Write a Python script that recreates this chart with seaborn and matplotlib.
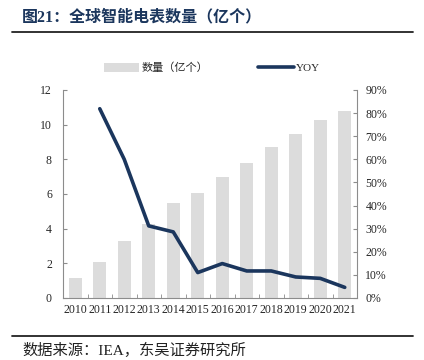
import numpy as np
import pandas as pd
import matplotlib
matplotlib.use('Agg')
import matplotlib.pyplot as plt
from matplotlib.lines import Line2D
from matplotlib.patches import Patch
from matplotlib.ticker import FixedLocator, FuncFormatter
import seaborn as sns

years = ['2010', '2011', '2012', '2013', '2014', '2015',
         '2016', '2017', '2018', '2019', '2020', '2021']
count = [1.15, 2.08, 3.27, 4.25, 5.46, 6.08, 6.96, 7.77, 8.69, 9.46, 10.29, 10.79]
yoy = [np.nan, 81.9, 60.0, 31.2, 28.6, 11.0, 14.9, 11.7, 11.7, 9.1, 8.5, 4.6]

bar_label = '数量（亿个）'
line_label = 'YOY'
title = '图21：全球智能电表数量（亿个）'
source = '数据来源：IEA，东吴证券研究所'

bar_color = '#DCDCDC'
line_color = '#1B365D'
spine_color = '#8C8C8C'

sns.set_style('white')
plt.rcParams['font.family'] = ['Liberation Serif', 'Noto Sans CJK SC']

df = pd.DataFrame({'year': years, 'count': count, 'yoy': yoy})
df['pos'] = df.index

fig = plt.figure(figsize=(4.24, 3.6), dpi=100)
ax = fig.add_axes([63/424, 62/360, 294/424, 208/360])

sns.barplot(data=df, x='year', y='count', color=bar_color, width=0.55,
            saturation=1, ax=ax, edgecolor='none')
ax.set_xlim(-0.5, 11.5)
ax.set_ylim(0, 12)
ax.set_yticks([0, 2, 4, 6, 8, 10, 12])
ax.set_xlabel('')
ax.set_ylabel('')

ax2 = ax.twinx()
sns.lineplot(data=df.dropna(), x='pos', y='yoy', color=line_color,
             linewidth=2.6, ax=ax2)
ax2.set_ylim(0, 90)
ax2.set_yticks(np.arange(0, 91, 10))
ax2.yaxis.set_major_formatter(FuncFormatter(lambda v, p: f'{v:.0f}%'))
ax2.set_xlim(-0.5, 11.5)
ax2.set_xlabel('')
ax2.set_ylabel('')

for a in (ax, ax2):
    for s in a.spines.values():
        s.set_color(spine_color)
        s.set_linewidth(0.8)
    a.spines['top'].set_visible(False)
    a.grid(False)

ax.spines['right'].set_visible(False)
ax2.spines['left'].set_visible(False)
ax2.spines['bottom'].set_visible(False)

ax.tick_params(axis='y', direction='in', length=3, color=spine_color,
               labelsize=8.5, pad=8, left=True)
ax.tick_params(axis='x', which='major', length=0, labelsize=8.5, pad=4)
ax.xaxis.set_minor_locator(FixedLocator(np.arange(0.5, 11.5, 1)))
ax.tick_params(axis='x', which='minor', direction='in', length=3,
               color=spine_color, bottom=True)
ax2.tick_params(axis='y', direction='in', length=3, color=spine_color,
                labelsize=8.5, pad=6, right=True)

handles = [Patch(facecolor=bar_color, edgecolor='none'),
           Line2D([], [], color=line_color, linewidth=2.6)]
fig.legend(handles, [bar_label, line_label], loc='center',
           bbox_to_anchor=(0.5, 1 - 68/360), ncol=2, frameon=False,
           fontsize=8, handlelength=3.2, handleheight=0.9,
           columnspacing=4.5, handletextpad=0.2)

fig.text(22/424, 1 - 17/360, title, fontsize=11.5, fontweight='bold',
         color=line_color, va='center', ha='left')
fig.text(22/424, 1 - 350/360, source, fontsize=11, color='#222222',
         va='center', ha='left')
fig.add_artist(Line2D([12/424, 413/424], [1 - 32/360, 1 - 32/360],
                      transform=fig.transFigure, color='#222222', linewidth=1.3))
fig.add_artist(Line2D([12/424, 413/424], [1 - 336/360, 1 - 336/360],
                      transform=fig.transFigure, color='#222222', linewidth=1.3))

fig.savefig('out.png', dpi=100)
